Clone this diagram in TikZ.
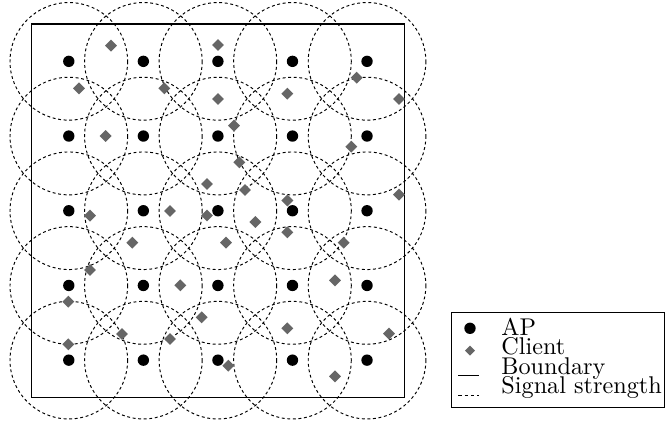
\documentclass[tikz,border=0pt]{standalone}
\usetikzlibrary{shapes.geometric}
\begin{document}
\begin{tikzpicture}[x=0.4132pt,y=-0.4132pt,
  ap/.style={circle,fill=black,inner sep=0pt,minimum size=4.7pt},
  client/.style={diamond,fill=black!60,inner sep=0pt,minimum size=5.1pt},
  sig/.style={dash pattern=on 1.2pt off 1.1pt,line width=0.4pt},
  legsig/.style={dash pattern=on 1.4pt off 1.2pt,line width=0.4pt},
  bound/.style={line width=0.5pt},
  lbl/.style={anchor=base west,inner sep=0pt}]
\useasboundingbox (0,0) rectangle (665,423);
\coordinate (b1) at (31.5,24);
\coordinate (b2) at (404.3,397.5);
\draw[bound] (b1) rectangle (b2);
\foreach \i in {0,...,4} \foreach \j in {0,...,4} {
  \node[ap] (ap\i\j) at ({68.8+74.56*\i},{61.35+74.7*\j}) {};
  \draw[sig] (ap\i\j) circle[radius=58.8];
}
\foreach \px/\py [count=\k] in {111/45.7, 218/45, 79/88.3, 164.3/88.3, 218/99, 287.3/93.7,
  356.7/77.7, 399/99, 105.7/136, 234/125.7, 351.3/146.7, 239.3/162.3, 207/184, 245/190,
  287.3/200.5, 399/194.7, 90/215.7, 170/211, 207/215.5, 255.3/222, 287.3/232.3,
  132.3/242.7, 226/242.7, 343.7/242.7, 90/270, 335/280.3, 180.3/285.3, 68.3/301.7,
  201.7/317.3, 287.3/328.3, 122/334, 170/339, 389/333.7, 68.3/344.3, 228.3/365.7,
  335/376.3}
  \node[client] (c\k) at (\px,\py) {};
% legend
\coordinate (lg1) at (451.7,312.3);
\coordinate (lg2) at (664.6,407.3);
\draw[bound] (lg1) rectangle (lg2);
\node[ap] (lap) at (470,328.3) {};
\node[client,minimum size=4.3pt] (lcl) at (470,350.7) {};
\coordinate (lb1) at (458.3,375.7);
\coordinate (lb2) at (479.3,375.7);
\draw (lb1) -- (lb2);
\coordinate (ls1) at (458.3,395);
\coordinate (ls2) at (479.3,395);
\draw[legsig] (ls1) -- (ls2);
\node[lbl] (tap) at (501,335.7) {AP};
\node[lbl] (tcl) at (501,354.9) {Client};
\node[lbl] (tbd) at (501,374.1) {Boundary};
\node[lbl] (tss) at (501,393.3) {Signal strength};
\end{tikzpicture}
\end{document}
